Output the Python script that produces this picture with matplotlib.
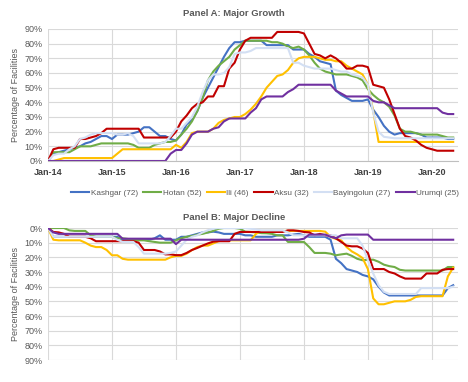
import matplotlib
matplotlib.use("Agg")
import matplotlib.pyplot as plt
import numpy as np

plt.rcParams['font.family'] = ['Liberation Sans', 'DejaVu Sans']

months = list(range(77))  # Jan-14 ... May-20
tick_pos = [0, 12, 24, 36, 48, 60, 72]
tick_labels = ['Jan-14', 'Jan-15', 'Jan-16', 'Jan-17', 'Jan-18', 'Jan-19', 'Jan-20']
y_ticks = [0, 10, 20, 30, 40, 50, 60, 70, 80, 90]

names = ['Kashgar (72)', 'Hotan (52)', 'Ili (46)', 'Aksu (32)', 'Bayingolun (27)', 'Urumqi (25)']
colors = ['#4472C4', '#70AD47', '#FFC000', '#C00000', '#D3DFF3', '#7030A0']

# Panel A: Major Growth (% of facilities)
growth_kashgar = [0, 5, 6, 7, 8, 9, 10, 12, 13, 15, 17, 17,
                  15, 18, 18, 18, 19, 20, 23, 23, 20, 17, 17, 15,
                  14, 18, 25, 28, 34, 43, 50, 57, 64, 71, 77, 81,
                  81, 82, 82, 82, 82, 79, 79, 79, 79, 79, 76, 76,
                  76, 73, 71, 68, 67, 66, 48, 45, 43, 41, 41, 41,
                  42, 35, 30, 24, 20, 18, 19, 19, 19, 19, 18, 16,
                  16, 16, 16, 15, 15]
growth_hotan = [0, 6, 6, 6, 6, 8, 10, 10, 10, 11, 12, 12,
                12, 12, 12, 12, 11, 9, 9, 9, 11, 12, 13, 13,
                14, 18, 22, 27, 34, 43, 55, 61, 65, 68, 71, 76,
                79, 82, 82, 82, 82, 82, 81, 81, 80, 78, 77, 78,
                76, 72, 67, 63, 61, 60, 59, 59, 59, 58, 57, 55,
                49, 45, 42, 40, 37, 31, 22, 20, 20, 19, 18, 18,
                18, 18, 17, 16, 16]
growth_ili = [0, 0, 1, 2, 2, 2, 2, 2, 2, 2, 2, 2,
              2, 5, 8, 8, 8, 8, 8, 8, 8, 8, 8, 8,
              11, 9, 13, 19, 20, 20, 20, 22, 26, 28, 29, 30,
              30, 32, 35, 39, 44, 50, 54, 58, 59, 62, 67, 70,
              71, 71, 71, 70, 69, 69, 68, 68, 65, 63, 61, 59,
              52, 34, 13, 13, 13, 13, 13, 13, 13, 13, 13, 13,
              13, 13, 13, 13, 13]
growth_aksu = [0, 8, 9, 9, 9, 9, 15, 15, 16, 17, 19, 22,
               22, 22, 22, 22, 22, 22, 16, 16, 16, 16, 16, 16,
               20, 27, 31, 36, 39, 40, 44, 44, 51, 51, 63, 67,
               76, 82, 84, 84, 84, 84, 84, 88, 88, 88, 88, 88,
               87, 80, 73, 72, 70, 72, 70, 67, 63, 63, 65, 65,
               64, 52, 51, 50, 42, 32, 22, 17, 16, 14, 11, 9,
               8, 7, 7, 7, 7]
growth_bayingolun = [0, 4, 5, 5, 8, 10, 15, 16, 18, 19, 19, 19,
                     19, 18, 18, 19, 17, 12, 12, 12, 12, 12, 13, 17,
                     22, 22, 26, 30, 37, 47, 55, 59, 59, 60, 64, 73,
                     74, 74, 75, 77, 77, 77, 77, 77, 77, 77, 67, 67,
                     65, 64, 63, 63, 63, 63, 62, 61, 61, 59, 58, 57,
                     52, 33, 20, 16.5, 16, 15.5, 15.5, 15.5, 15.5, 15.5, 15.5, 15.5,
                     15.5, 15.5, 15.5, 15.5, 15.5]
growth_urumqi = [0, 0, 0, 0, 0, 0, 0, 0, 0, 0, 0, 0,
                 0, 0, 0, 0, 0, 0, 0, 0, 0, 0, 0, 5,
                 7.5, 7.5, 12, 18, 20, 20, 20, 22, 23, 27, 29, 29,
                 29, 29, 33, 36, 42, 44, 44, 44, 44, 47, 49, 52,
                 52, 52, 52, 52, 52, 52, 48, 46, 44, 44, 44, 44,
                 44, 41, 40, 40, 38, 36, 36, 36, 36, 36, 36, 36,
                 36, 36, 33, 32, 32]

# Panel B: Major Decline (% of facilities, shown downward)
decline_kashgar = [0, 6, 6, 6, 6, 6, 6, 6, 6, 6, 6, 6,
                   6, 6, 8, 8, 8, 8, 8, 8, 7, 5, 8, 8,
                   8, 6, 6, 5, 4, 3, 3, 2.5, 3, 4, 4, 4,
                   4, 5, 5, 6, 6, 6, 6, 5, 5, 5, 4.5, 4,
                   5, 6, 6, 6, 6, 8, 21, 24, 28, 29, 30, 32,
                   33, 35, 40, 44, 46, 46, 46, 46, 46, 46, 46, 46,
                   46, 46, 46, 41, 39]
decline_hotan = [0, 0, 0, 0, 1.6, 2, 2, 2, 5, 6, 6, 6,
                 6, 7, 7, 7.5, 8, 8.4, 8.4, 9, 9.5, 10, 10, 10,
                 8.4, 7, 6, 5.5, 4.5, 4, 3, 2, 0.5, 0, 0, 0,
                 0.5, 2.5, 2.7, 3, 3.5, 3.6, 4, 5, 5, 9.5, 9.5, 9.5,
                 9.5, 13, 17, 17, 17, 17.5, 18.6, 18, 17.5, 19, 21, 22,
                 21.6, 21.6, 23, 25, 26, 26.6, 28.5, 29, 29, 29, 29, 29,
                 29, 29, 29, 26.6, 26.6]
decline_ili = [0, 8, 8.4, 8.4, 8.4, 8.4, 8.4, 10, 12, 13, 13, 15,
               18.6, 18.6, 21, 21.6, 21.6, 21.6, 21.6, 21.6, 21.6, 21.6, 21.6, 20,
               19, 19, 17.5, 15, 13, 12, 12, 10.5, 9, 8.4, 8.4, 8.4,
               8.4, 8.4, 8.4, 4, 2, 2, 2, 2, 2, 2, 2, 2,
               2, 2, 2, 2, 2.5, 6, 7.5, 8.4, 13, 16, 18, 20.5,
               28, 48, 52, 52, 51, 50, 50, 50, 49, 47, 46.5, 46.5,
               46.5, 46.5, 46.5, 33, 27]
decline_aksu = [0, 2.7, 3, 4, 6, 6, 6, 6, 7, 9, 9, 9,
                9, 9, 9, 9, 9, 10, 15, 15, 15, 16, 18, 18,
                18.5, 18.5, 17, 15, 13.6, 12, 10.5, 9.3, 9, 9, 9, 4,
                2.7, 2.7, 2.7, 2.7, 2.7, 2.7, 2.7, 2.7, 2.7, 1.6, 1.6, 2,
                2.7, 3, 5, 4, 5, 5, 7, 9.5, 12, 12.5, 12.5, 14,
                17, 28, 28, 28, 30, 31, 33, 34.5, 34.5, 34.5, 34.5, 31,
                31, 31, 28.5, 28, 28]
decline_bayingolun = [0, 6, 6, 6, 6, 6, 6, 6, 6, 6, 6, 6,
                      6, 8, 9.5, 9.5, 9.5, 13, 17.5, 17.5, 17.5, 17.5, 17.5, 17,
                      16, 12, 8, 6, 5, 3, 1.5, 0.5, 0, 0, 0, 0,
                      0, 0, 0.5, 1, 1.6, 1.6, 1.6, 1.6, 1.6, 3, 5, 5,
                      5, 5, 5, 5, 5, 5, 5, 7, 7, 7, 7, 12,
                      22, 31, 39, 43.5, 45, 45, 45, 45, 45, 45, 41, 41,
                      41, 41, 41, 41, 40]
decline_urumqi = [0, 3, 4, 4, 4, 4, 4, 4, 4, 4, 4, 4,
                  4, 4, 7.3, 7.3, 7.3, 7.3, 7.3, 7.3, 7.3, 7.3, 7.3, 7.3,
                  11, 8, 8, 8, 8, 8, 8, 8, 8, 8, 8, 8,
                  8, 8, 8, 8, 8, 8, 8, 8, 8, 8, 8, 8,
                  7.3, 4.5, 4.5, 4.5, 4.5, 6, 7, 5, 4.5, 4.5, 4.5, 4.5,
                  4.5, 8, 8, 8, 8, 8, 8, 8, 8, 8, 8, 8,
                  8, 8, 8, 8, 8]

growth = [growth_kashgar, growth_hotan, growth_ili, growth_aksu, growth_bayingolun, growth_urumqi]
decline = [decline_kashgar, decline_hotan, decline_ili, decline_aksu, decline_bayingolun, decline_urumqi]

W, H = 468, 382
fig = plt.figure(figsize=(W / 100, H / 100), dpi=100)

left = 48 / W
width = (458 - 48) / W
axA = fig.add_axes([left, 1 - 161 / H, width, (161 - 29) / H])
axB = fig.add_axes([left, 1 - 360 / H, width, (360 - 228) / H])

grid_c = '#D9D9D9'
txt_c = '#595959'

for ax, data in ((axA, growth), (axB, decline)):
    for vals, name, col in zip(data, names, colors):
        ax.plot(months, vals, color=col, lw=1.5, label=name, solid_joinstyle='round')
    ax.set_xlim(0, 76.9)
    ax.set_ylim(0, 90)
    ax.set_yticks(y_ticks)
    ax.set_yticklabels([f'{v}%' for v in y_ticks])
    ax.set_xticks(tick_pos)
    ax.grid(True, color=grid_c, lw=0.8)
    ax.set_axisbelow(True)
    for s in ax.spines.values():
        s.set_visible(False)
    ax.tick_params(axis='both', length=0, labelsize=6.5, labelcolor=txt_c)
    ax.tick_params(axis='y', pad=4)
    ax.set_ylabel('Percentage of Facilities', fontsize=6.5, color=txt_c, labelpad=3)

axA.set_xticklabels(tick_labels, fontsize=6.5, fontweight='bold', color='#404040')
axA.tick_params(axis='x', pad=5)
axA.spines['bottom'].set_visible(True)
axA.spines['bottom'].set_color('#BFBFBF')
axB.set_xticklabels([])
axB.invert_yaxis()

fig.text(0.5, 1 - 13 / H, 'Panel A: Major Growth', ha='center', va='center',
         fontsize=6.8, fontweight='bold', color=txt_c)
fig.text(0.5, 1 - 218 / H, 'Panel B: Major Decline', ha='center', va='center',
         fontsize=6.8, fontweight='bold', color=txt_c)

handles, labels = axA.get_legend_handles_labels()
fig.legend(handles, labels, loc='center', bbox_to_anchor=(265 / W, 1 - 193 / H),
           ncol=6, frameon=False, fontsize=5.9, handlelength=2.2,
           handletextpad=0.15, columnspacing=0.7, labelcolor=txt_c, borderpad=0)

fig.savefig('out.png', dpi=100)
